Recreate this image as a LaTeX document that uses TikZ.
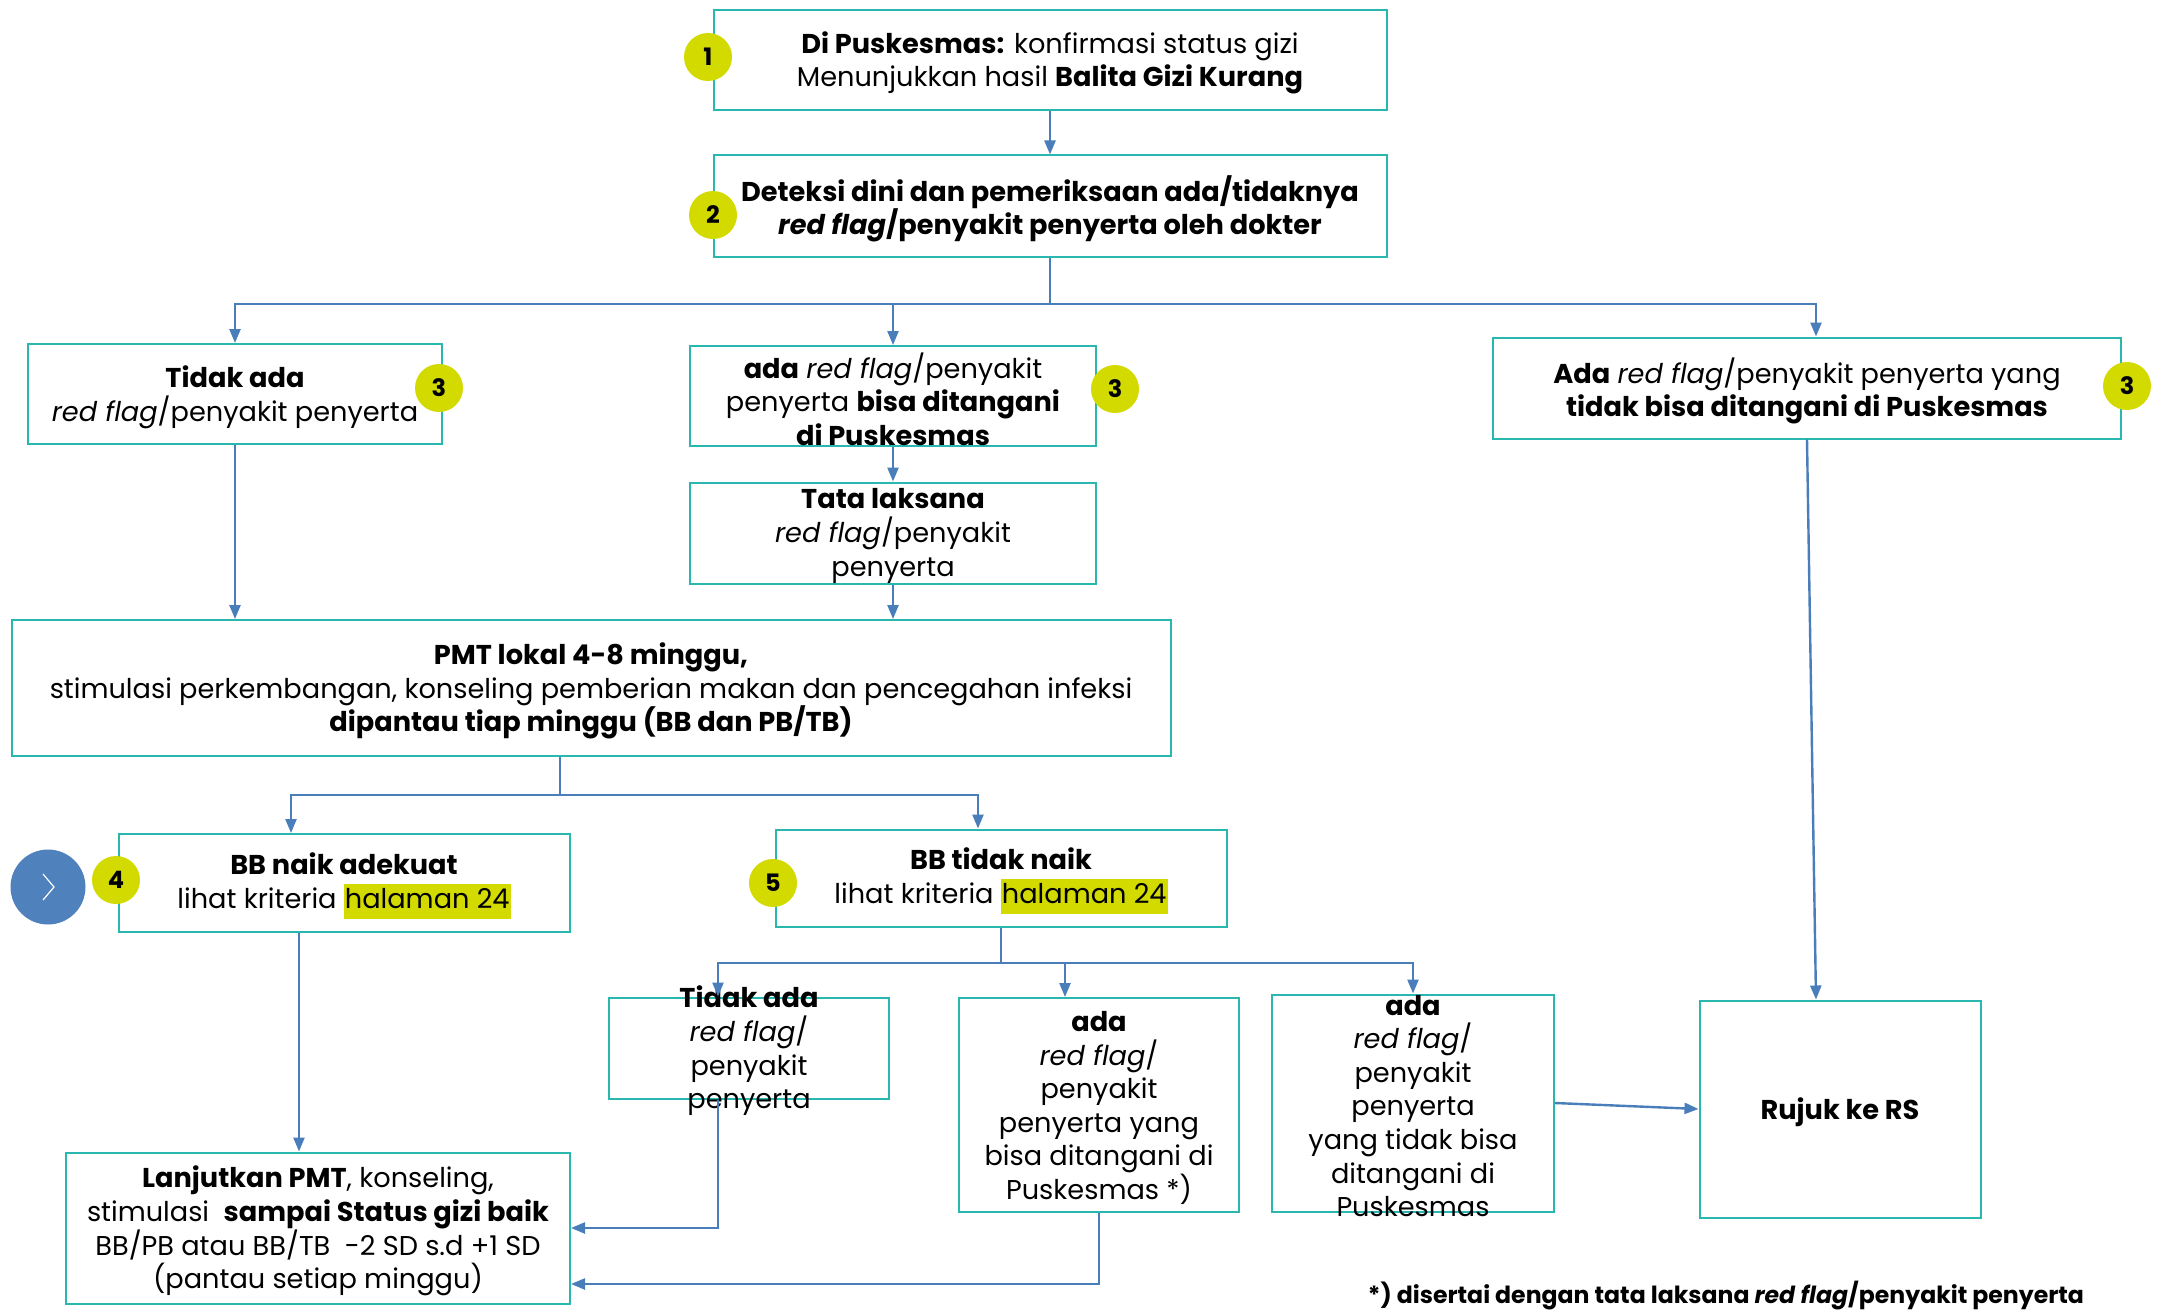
\documentclass[tikz,border=0pt]{standalone}
\usepackage{fontspec}
\setmainfont{Poppins}
\usepackage{xcolor}
\usetikzlibrary{arrows.meta}

\definecolor{box-line}{RGB}{40,184,176}
\definecolor{link-blue}{RGB}{74,126,187}
\definecolor{badge-yellow}{RGB}{211,218,0}
\definecolor{nav-blue}{RGB}{79,129,189}

\newcommand{\boxfont}{\fontsize{13.6}{16.8}\selectfont}
\newcommand{\pagemark}[1]{{\setlength{\fboxsep}{0.5pt}\colorbox{badge-yellow}{\strut #1}}}
\newcommand{\redflag}{\textit{red flag}}

\begin{document}
\begin{tikzpicture}
[
x=0.5pt, y=-0.5pt,
box-a/.style={draw=box-line, line width=1pt, inner sep=0pt},
text-a/.style={black, align=center, inner sep=0pt, font=\boxfont, yshift=-1.5pt},
badge-a/.style={circle, fill=badge-yellow, minimum size=24pt, inner sep=0pt, font=\fontsize{12}{12}\selectfont\bfseries},
link-a/.style={draw=link-blue, line width=1.2pt},
arrow-a/.style={link-a, -{Triangle[length=7pt, width=5.5pt]}}
]
\useasboundingbox[fill=white] (0,0) rectangle (2164,1311);

% boxes
\node (box-1)     [box-a, minimum width=336.5pt, minimum height=50pt,   label={[text-a]center:{\textbf{Di Puskesmas:} konfirmasi status gizi\\Menunjukkan hasil \textbf{Balita Gizi Kurang}}}] at (1050,60) {};
\node (box-2)     [box-a, minimum width=336.5pt, minimum height=50.5pt, label={[text-a]center:{\textbf{Deteksi dini dan pemeriksaan ada/tidaknya}\\\textbf{\redflag/penyakit penyerta oleh dokter}}}] at (1050,206) {};
\node (rf-none)   [box-a, minimum width=207pt,   minimum height=50pt,   label={[text-a]center:{\textbf{Tidak ada}\\\redflag/penyakit penyerta}}] at (235,394) {};
\node (rf-local)  [box-a, minimum width=203pt,   minimum height=50pt,   label={[text-a]center:{\textbf{ada} \redflag/penyakit\\penyerta \textbf{bisa ditangani}\\\textbf{di Puskesmas}}}] at (893,396) {};
\node (rf-refer)  [box-a, minimum width=314pt,   minimum height=50.5pt, label={[text-a]center:{\textbf{Ada} \redflag/penyakit penyerta yang\\\textbf{tidak bisa ditangani di Puskesmas}}}] at (1807,388) {};
\node (tata)      [box-a, minimum width=203pt,   minimum height=50.5pt, label={[text-a]center:{\textbf{Tata laksana}\\\redflag/penyakit\\penyerta}}] at (893,533) {};
\node (pmt)       [box-a, minimum width=579.5pt, minimum height=68pt,   label={[text-a]center:{\textbf{PMT lokal 4-8 minggu,}\\stimulasi perkembangan, konseling pemberian makan dan pencegahan infeksi\\\textbf{dipantau tiap minggu (BB dan PB/TB)}}}] at (591,688) {};
\node (bb-up)     [box-a, minimum width=225.5pt, minimum height=49pt,   label={[text-a]center:{\textbf{BB naik adekuat}\\lihat kriteria \pagemark{halaman 24}}}] at (344,883) {};
\node (bb-flat)   [box-a, minimum width=225.5pt, minimum height=48.5pt, label={[text-a]center:{\textbf{BB tidak naik}\\lihat kriteria \pagemark{halaman 24}}}] at (1001,878) {};
\node (rf2-none)  [box-a, minimum width=140pt,   minimum height=50.5pt, label={[text-a]center:{\textbf{Tidak ada}\\\redflag/\\penyakit\\penyerta}}] at (749,1048) {};
\node (rf2-local) [box-a, minimum width=140pt,   minimum height=107pt,  label={[text-a]center:{\textbf{ada}\\\redflag/\\penyakit\\penyerta yang\\bisa ditangani di\\Puskesmas *)}}] at (1099,1105) {};
\node (rf2-refer) [box-a, minimum width=141pt,   minimum height=108.5pt,label={[text-a]center:{\textbf{ada}\\\redflag/\\penyakit\\penyerta\\yang tidak bisa\\ditangani di\\Puskesmas}}] at (1413,1103) {};
\node (rujuk)     [box-a, minimum width=140.5pt, minimum height=108.5pt,label={[text-a]center:{\textbf{Rujuk ke RS}}}] at (1840,1109) {};
\node (lanjut)    [box-a, minimum width=252pt,   minimum height=75.5pt, label={[text-a]center:{\textbf{Lanjutkan PMT}, konseling,\\stimulasi~ \textbf{sampai Status gizi baik}\\BB/PB atau BB/TB~ -2 SD s.d +1 SD\\(pantau setiap minggu)}}] at (318,1228) {};
\node (note-star) [text-a, anchor=north, font=\fontsize{11.8}{14}\selectfont\bfseries] at (1726,1278) {*) disertai dengan tata laksana \textit{red flag}/penyakit penyerta};

% connectors
\coordinate (split-1) at (1050,304);
\coordinate (split-2) at (560,795);
\coordinate (split-3) at (1001,963);

\draw[arrow-a] (box-1.south) -- (box-2.north);
\draw[link-a]  (box-2.south) -- (split-1);
\draw[arrow-a] (split-1) -| (rf-none.north);
\draw[arrow-a] (split-1) -| (rf-local.north);
\draw[arrow-a] (split-1) -| ([xshift=4.5pt]rf-refer.north);
\draw[arrow-a] (rf-local.south) -- (tata.north);
\draw[arrow-a] (tata.south) -- (tata.south |- pmt.north);
\draw[arrow-a] (rf-none.south) -- (rf-none.south |- pmt.north);
\draw[arrow-a] (rf-refer.south) -- ([xshift=-12pt]rujuk.north);
\draw[link-a]  (split-2 |- pmt.south) -- (split-2);
\draw[arrow-a] (split-2) -| ([xshift=-26.5pt]bb-up.north);
\draw[arrow-a] (split-2) -| ([xshift=-11.5pt]bb-flat.north);
\draw[link-a]  (bb-flat.south) -- (split-3);
\draw[arrow-a] (split-3) -| ([xshift=-15.5pt]rf2-none.north);
\draw[arrow-a] (split-3) -| ([xshift=-17pt]rf2-local.north);
\draw[arrow-a] (split-3) -| (rf2-refer.north);
\draw[arrow-a] ([xshift=-22.5pt]bb-up.south) -- ([xshift=-22.5pt]bb-up.south |- lanjut.north);
\draw[arrow-a] ([xshift=-15.5pt]rf2-none.south) |- (lanjut.east);
\draw[arrow-a] (rf2-local.south) |- ([yshift=-28pt]lanjut.east);
\draw[arrow-a] (rf2-refer.east) -- (rujuk.west);

% numbered badges
\node (badge-1)  [badge-a] at (708,57)   {1};
\node (badge-2)  [badge-a] at (713,215)  {2};
\node (badge-3a) [badge-a] at (439,388)  {3};
\node (badge-3b) [badge-a] at (1115,389) {3};
\node (badge-3c) [badge-a] at (2127,386) {3};
\node (badge-4)  [badge-a] at (116,880)  {4};
\node (badge-5)  [badge-a] at (773,883)  {5};

% nav button
\node (nav) [circle, fill=nav-blue, minimum size=37.5pt, inner sep=0pt] at (48,887) {};
\draw[white, line width=0.6pt] ([shift={(-5,-13)}]nav.center) -- ++(11,13) -- ++(-11,13);
\end{tikzpicture}
\end{document}
